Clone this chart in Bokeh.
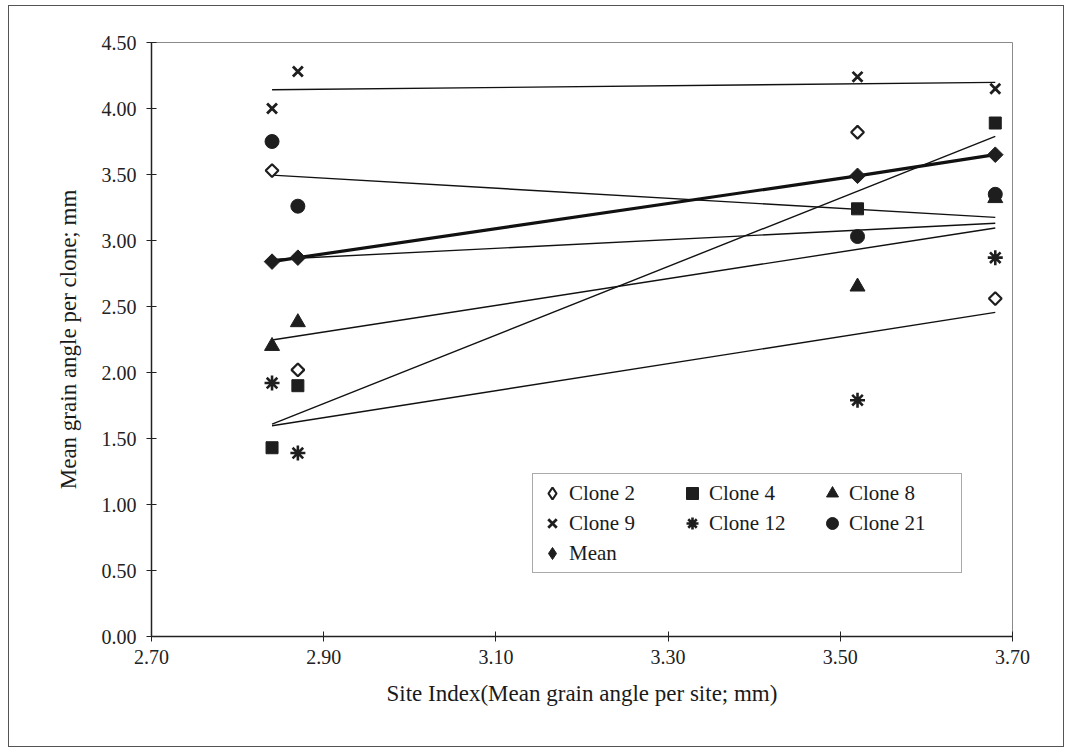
import numpy as np
from bokeh.plotting import figure
from bokeh.layouts import column
from bokeh.models import Range1d, FixedTicker, NumeralTickFormatter, Legend, LegendItem
from bokeh.embed import file_html
from bokeh.resources import INLINE

# ---- data ----
site = [2.84, 2.87, 3.52, 3.68]
clone2 = [3.53, 2.02, 3.82, 2.56]
clone4 = [1.43, 1.90, 3.24, 3.89]
clone8 = [2.20, 2.38, 2.65, 3.32]
clone9 = [4.00, 4.28, 4.24, 4.15]
clone12 = [1.92, 1.39, 1.79, 2.87]
clone21 = [3.75, 3.26, 3.03, 3.35]
mean_vals = [2.84, 2.87, 3.49, 3.65]

x_ticks = [2.70, 2.90, 3.10, 3.30, 3.50, 3.70]
y_ticks = [0.0, 0.5, 1.0, 1.5, 2.0, 2.5, 3.0, 3.5, 4.0, 4.5]

FONT = "Liberation Serif"
INK = "#1e1e1e"
ROT = np.pi / 4

# figure sits inside a framed box: box outer edge at x=8, y=5
p = figure(width=1054, height=740, output_backend="svg", toolbar_location=None,
           x_range=Range1d(2.70, 3.70), y_range=Range1d(0.0, 4.5),
           min_border_left=142, min_border_right=51, min_border_top=36, min_border_bottom=110)
p.background_fill_color = "white"
p.border_fill_color = "white"
p.grid.visible = False
p.outline_line_color = "#8a8a8a"
p.outline_line_width = 1

for ax in (p.xaxis[0], p.yaxis[0]):
    ax.axis_line_color = "#222222"
    ax.axis_line_width = 1.5
    ax.major_tick_line_color = "#222222"
    ax.major_tick_in = 5
    ax.major_tick_out = 5
    ax.minor_tick_line_color = None
    ax.major_label_text_font = FONT
    ax.major_label_text_font_size = "20px"
    ax.major_label_text_color = "#222222"
    ax.axis_label_text_font = FONT
    ax.axis_label_text_font_size = "23px"
    ax.axis_label_text_font_style = "normal"
    ax.axis_label_text_color = "#1a1a1a"
    ax.formatter = NumeralTickFormatter(format="0.00")

p.xaxis.ticker = FixedTicker(ticks=x_ticks)
p.yaxis.ticker = FixedTicker(ticks=y_ticks)
p.xaxis.axis_label = "Site Index(Mean grain angle per site; mm)"
p.yaxis.axis_label = "Mean grain angle per clone; mm"
p.xaxis.major_label_standoff = 8
p.xaxis.axis_label_standoff = 14
p.yaxis.major_label_standoff = 10
p.yaxis.axis_label_standoff = 18

# ---- linear trendlines (least squares from the data) ----
xs = np.array(site)
x0, x1 = min(site), max(site)
for ys in (clone2, clone4, clone8, clone9, clone12, clone21):
    k, b = np.polyfit(xs, np.array(ys), 1)
    p.line([x0, x1], [k * x0 + b, k * x1 + b], line_color="#111111", line_width=1.4)

# mean series drawn as connected thick line
p.line(site, mean_vals, line_color="#111111", line_width=3.2)

p.scatter(site, clone2, marker="square", angle=ROT, size=9, fill_color="white",
          line_color=INK, line_width=2.2)
r4 = p.scatter(site, clone4, marker="square", size=12, fill_color=INK, line_color=INK)
r8 = p.scatter(site, clone8, marker="triangle", size=15, fill_color=INK, line_color=INK)
r9 = p.scatter(site, clone9, marker="x", size=14, line_color=INK, line_width=2.8)
r12 = p.scatter(site, clone12, marker="asterisk", size=15, line_color=INK, line_width=2.6)
r21 = p.scatter(site, clone21, marker="circle", size=14, fill_color=INK, line_color=INK)
p.scatter(site, mean_vals, marker="square", angle=ROT, size=11, fill_color=INK, line_color=INK)

# legend stand-ins for the rotated-square (diamond) series (placed off-range, never visible)
off = [-10.0]
r2_leg = p.scatter(x=off, y=off, marker="diamond", size=14, fill_color="white",
                   line_color=INK, line_width=2.2)
rm_leg = p.scatter(x=off, y=off, marker="diamond", size=14, fill_color=INK, line_color=INK)

items = [("Clone 2", r2_leg), ("Clone 4", r4), ("Clone 8", r8),
         ("Clone 9", r9), ("Clone 12", r12), ("Clone 21", r21), ("Mean", rm_leg)]

legend = Legend(items=[LegendItem(label=l, renderers=[rr]) for l, rr in items],
                location=(381, 63), ncols=3, orientation="horizontal")
legend.label_text_font = FONT
legend.label_text_font_size = "21px"
legend.label_text_color = "#1a1a1a"
legend.border_line_color = "#555555"
legend.border_line_width = 1.2
legend.background_fill_alpha = 1
legend.glyph_width = 30
legend.glyph_height = 30
legend.label_standoff = 2
legend.label_height = 30
legend.label_width = 108
legend.spacing = 0
legend.padding = 4
legend.margin = 0
p.add_layout(legend, "center")

layout = column(p, margin=(5, 0, 0, 8),
                styles={"border": "1px solid #555555", "background-color": "white"})

open("out.html", "w").write(file_html(layout, INLINE))
